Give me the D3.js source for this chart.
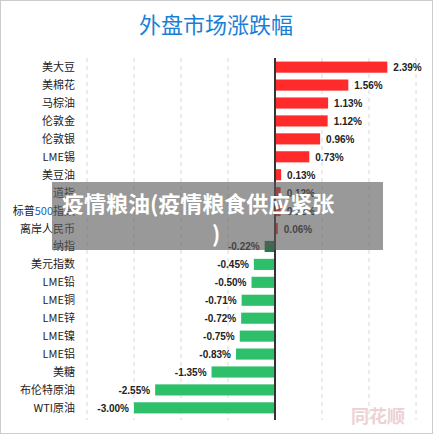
<!DOCTYPE html><html><head><meta charset="utf-8">
<script src="https://cdn.jsdelivr.net/npm/d3@7"></script>
<style>body{margin:0;background:#fff}</style></head><body><svg id="c" width="433" height="434"></svg>
<script>
const categories=["美大豆","美棉花","马棕油","伦敦金","伦敦银","LME锡","美豆油","道指","标普500指数","离岸人民币","纳指","美元指数","LME铅","LME铜","LME锌","LME镍","LME铝","美糖","布伦特原油","WTI原油"];
const values=[2.39,1.56,1.13,1.12,0.96,0.73,0.13,0.12,0.12,0.06,-0.22,-0.45,-0.50,-0.71,-0.72,-0.75,-0.83,-1.35,-2.55,-3.00];
const ticks=[-4,-3,-2,-1,0,1,2,3];
const svg=d3.select("#c");
svg.append("rect").attr("x",0.5).attr("y",0.5).attr("width",432).attr("height",433).attr("fill","#fff").attr("stroke","#ccc");
svg.append("text").attr("x",216).attr("y",33).attr("text-anchor","middle").attr("font-size",22).attr("font-family","Noto Sans CJK SC").attr("fill","#1a7fd4").text("外盘市场涨跌幅");
const x=d3.scaleLinear().domain([-4,3]).range([87,416]);
const y=d3.scaleBand().domain(categories).range([58,417]).paddingInner(0.38).paddingOuter(0.2);
svg.selectAll(".g").data(ticks.filter(t=>t!==0)).join("line").attr("x1",d=>x(d)).attr("x2",d=>x(d)).attr("y1",58).attr("y2",420).attr("stroke","#d8d8d8").attr("stroke-dasharray","4,4");
svg.selectAll(".b").data(values).join("rect")
 .attr("x",d=>x(Math.min(0,d))).attr("width",d=>Math.abs(x(d)-x(0)))
 .attr("y",(d,i)=>y(categories[i])).attr("height",y.bandwidth())
 .attr("fill",(d,i)=>d>=0?"#ff2a2a":(categories[i]==="纳指"?"#1f7d47":"#2dbf6a"));
svg.append("line").attr("x1",x(0)).attr("x2",x(0)).attr("y1",58).attr("y2",420).attr("stroke","#333").attr("stroke-width",2);
const f="Liberation Sans, Arial, sans-serif";
svg.selectAll(".v").data(values).join("text")
 .attr("x",d=>d>=0?x(d)+6:x(d)-5).attr("text-anchor",d=>d>=0?"start":"end")
 .attr("y",(d,i)=>y(categories[i])+y.bandwidth()/2+4).attr("font-size",10).attr("font-weight","bold").attr("font-family",f).attr("fill","#222")
 .text(d=>d.toFixed(2)+"%");
svg.selectAll(".c").data(categories).join("text").attr("x",75).attr("text-anchor","end")
 .attr("y",d=>y(d)+y.bandwidth()/2+4).attr("font-size",11).attr("font-family","Noto Sans CJK SC").attr("fill","#222")
 .each(function(d){const t=d3.select(this);if(d==="标普500指数"){t.append("tspan").text("标普");t.append("tspan").attr("fill","#1a5fb4").text("500");t.append("tspan").text("指数");}else t.text(d);});
svg.append("text").attr("x",405).attr("y",423).attr("text-anchor","end").attr("font-size",18).attr("font-weight","bold").attr("font-family","Noto Sans CJK SC").attr("fill","#e8c8c8").attr("opacity",0.8).text("同花顺");
svg.append("rect").attr("x",52).attr("y",182).attr("width",331).attr("height",68).attr("fill","rgba(90,90,90,0.62)");
svg.append("text").attr("x",62).attr("y",212).attr("font-size",22).attr("font-weight","bold").attr("font-family","Noto Sans CJK SC").attr("fill","#fff").text("疫情粮油(疫情粮食供应紧张");
svg.append("text").attr("x",212).attr("y",242).attr("font-size",22).attr("font-weight","bold").attr("font-family","Noto Sans CJK SC").attr("fill","#fff").text(")");
</script></body></html>
